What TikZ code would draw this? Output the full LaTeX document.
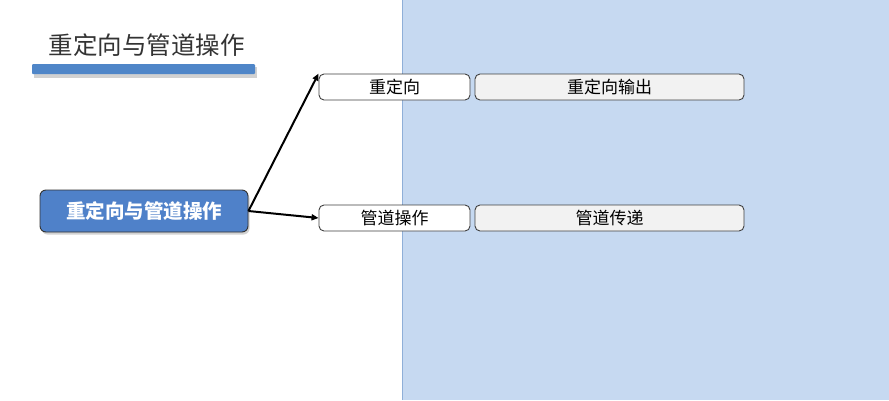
\documentclass[tikz,border=0pt]{standalone}
\usepackage{fontspec}
\setmainfont{Noto Sans CJK SC}
\usetikzlibrary{shadows,arrows.meta}
\definecolor{panel}{HTML}{C6D9F1}
\definecolor{panelborder}{HTML}{8FAFD8}
\definecolor{mainblue}{HTML}{4F81C9}
\definecolor{barblue}{HTML}{4F86C8}
\definecolor{leafgray}{HTML}{F2F2F2}
\definecolor{titlegray}{HTML}{333333}
\tikzset{
  leaf/.style={draw=black!75, rounded corners=5pt, line width=0.9pt, minimum height=26pt, inner sep=0pt, font=\fontsize{17}{20}\selectfont},
  rootbox/.style={draw=black!80, rounded corners=6pt, line width=0.9pt, fill=mainblue, text=white, font=\bfseries\fontsize{19.5}{22}\selectfont, minimum width=208pt, minimum height=42pt, drop shadow={shadow xshift=1.5pt, shadow yshift=-2.5pt, opacity=0.35}},
  conn/.style={-{Triangle[length=7pt,width=6pt]}, line width=2pt, black}
}
\begin{document}
\begin{tikzpicture}[x=1pt,y=-1pt]
\useasboundingbox (0,0) rectangle (889,400);
\fill[white] (0,0) rectangle (889,400);
\fill[panel] (402,0) rectangle (889,400);
\draw[panelborder, line width=0.8pt] (402.5,0) -- (402.5,400);
\node[text=titlegray, font=\fontsize{24.5}{28}\selectfont, anchor=west] (title) at (45,45) {重定向与管道操作};
\fill[black, opacity=0.18] (34,67) rectangle (257,78);
\fill[barblue, rounded corners=1pt] (32,64) rectangle (255,74);
\node[rootbox] (root) at (144,211) {重定向与管道操作};
\node[leaf, fill=white, minimum width=151pt] (r1) at (394.5,87) {重定向};
\node[leaf, fill=leafgray, minimum width=269pt] (r2) at (609.5,87) {重定向输出};
\node[leaf, fill=white, minimum width=151pt] (p1) at (394.5,218) {管道操作};
\node[leaf, fill=leafgray, minimum width=269pt] (p2) at (609.5,218) {管道传递};
\draw[conn] (root.east) -- (r1.north west);
\draw[conn] (root.east) -- (p1.west);
\end{tikzpicture}
\end{document}
